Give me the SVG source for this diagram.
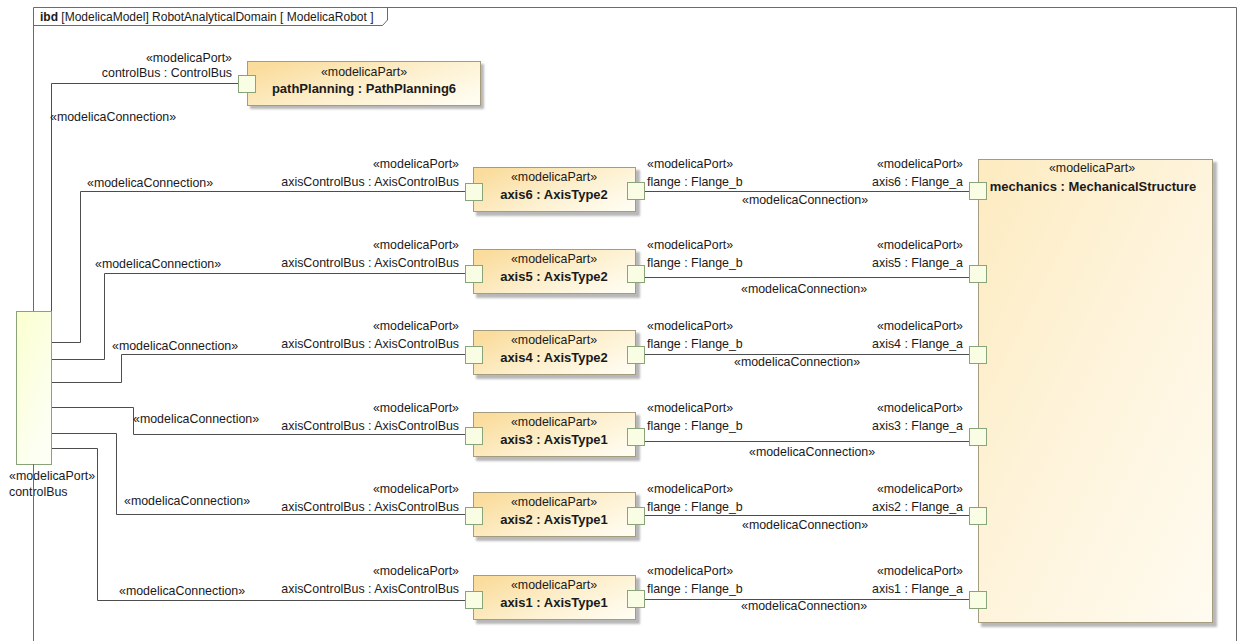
<svg xmlns="http://www.w3.org/2000/svg" width="1237" height="641" viewBox="0 0 1237 641">
<defs>
<linearGradient id="gAxis" x1="0" y1="0.2" x2="1" y2="0.8">
<stop offset="0" stop-color="#fadc9c"/>
<stop offset="0.55" stop-color="#fdf0cf"/>
<stop offset="1" stop-color="#fffcf0"/>
</linearGradient>
<linearGradient id="gMech" x1="0" y1="0" x2="1" y2="1">
<stop offset="0" stop-color="#fdebc0"/>
<stop offset="0.5" stop-color="#fef4dc"/>
<stop offset="1" stop-color="#fffbf0"/>
</linearGradient>
<linearGradient id="gCB" x1="0" y1="0" x2="0.6" y2="1">
<stop offset="0" stop-color="#fbffcf"/>
<stop offset="1" stop-color="#fdfff5"/>
</linearGradient>
<filter id="sh" x="-5%" y="-5%" width="115%" height="130%">
<feGaussianBlur stdDeviation="1"/>
</filter>
</defs>
<style>
text{font-family:"Liberation Sans",Arial,sans-serif;font-size:12.4px;fill:#1a1a1a}
.b{font-weight:bold;font-size:13px}
.h{font-size:12px}
.m{text-anchor:middle}
.e{text-anchor:end}
.box{stroke:#a59c80;stroke-width:1}
.shadow{fill:#b8b8b8;filter:url(#sh)}
.port{fill:#f8fde4;stroke:#8aa47a;stroke-width:1}
.frame{fill:none;stroke:#6b6b6b;stroke-width:1}
.conn{fill:none;stroke:#4d4d4d;stroke-width:1}
</style>
<rect width="1237" height="641" fill="#ffffff"/>

<g id="frame">
<path class="frame" d="M33.5,641 V7.5 H1236.5 V641"/>
<path class="frame" d="M33.5,25.5 H382.5 L387.5,20 V7.5"/>
<text class="h" x="40" y="21"><tspan font-weight="bold">ibd</tspan> [ModelicaModel] RobotAnalyticalDomain [ ModelicaRobot ]</text>
</g>

<g id="connectors">
<polyline class="conn" points="238,83.5 51.5,83.5 51.5,311"/>
<polyline class="conn" points="465,191.5 80.5,191.5 80.5,342.5 52,342.5"/>
<polyline class="conn" points="465,273.5 104.5,273.5 104.5,359.5 52,359.5"/>
<polyline class="conn" points="465,354.5 121.5,354.5 121.5,382.5 52,382.5"/>
<polyline class="conn" points="465,434.5 133.5,434.5 133.5,407.5 52,407.5"/>
<polyline class="conn" points="465,514.5 116.5,514.5 116.5,433.5 52,433.5"/>
<polyline class="conn" points="465,600.5 97.5,600.5 97.5,448.5 52,448.5"/>
<line class="conn" x1="644" y1="191.5" x2="969" y2="191.5"/>
<line class="conn" x1="644" y1="277.5" x2="969" y2="277.5"/>
<line class="conn" x1="644" y1="354.5" x2="969" y2="354.5"/>
<line class="conn" x1="644" y1="441.5" x2="969" y2="441.5"/>
<line class="conn" x1="644" y1="515.5" x2="969" y2="515.5"/>
<line class="conn" x1="644" y1="599.5" x2="969" y2="599.5"/>
<text x="50" y="121">«modelicaConnection»</text>
<text x="87" y="187">«modelicaConnection»</text>
<text x="95" y="268">«modelicaConnection»</text>
<text x="112" y="350">«modelicaConnection»</text>
<text x="133" y="423">«modelicaConnection»</text>
<text x="124" y="505">«modelicaConnection»</text>
<text x="119" y="595">«modelicaConnection»</text>
<text x="742" y="204">«modelicaConnection»</text>
<text x="741" y="293">«modelicaConnection»</text>
<text x="734" y="366">«modelicaConnection»</text>
<text x="749" y="456">«modelicaConnection»</text>
<text x="742" y="529">«modelicaConnection»</text>
<text x="741" y="610">«modelicaConnection»</text>
</g>

<g id="controlBus">
<rect x="16.5" y="311.5" width="35" height="153" fill="url(#gCB)" stroke="#8aa47a"/>
<text x="9" y="480">«modelicaPort»</text>
<text x="9" y="496">controlBus</text>
<line x1="33.5" y1="464" x2="33.5" y2="641" stroke="#6b6b6b"/>
</g>

<g id="pathPlanning">
<rect class="shadow" x="250" y="64" width="234" height="45"/>
<rect class="box" x="247.5" y="61.5" width="233" height="44" fill="url(#gAxis)"/>
<text class="m" x="364" y="76">«modelicaPart»</text>
<text class="m b" x="364" y="93">pathPlanning : PathPlanning6</text>
<rect class="port" x="238.5" y="75.5" width="17" height="17"/>
<text class="e" x="232" y="62">«modelicaPort»</text>
<text class="e" x="232" y="77">controlBus : ControlBus</text>
</g>

<g id="mechanics">
<rect class="shadow" x="981" y="162" width="236" height="465"/>
<rect class="box" x="978.5" y="159.5" width="234" height="463" fill="url(#gMech)"/>
<text class="m" x="1092" y="172">«modelicaPart»</text>
<text class="m b" x="1093" y="191">mechanics : MechanicalStructure</text>
<rect class="port" x="969.5" y="182.5" width="17" height="17"/>
<rect class="port" x="969.5" y="265.5" width="17" height="17"/>
<rect class="port" x="969.5" y="346.5" width="17" height="17"/>
<rect class="port" x="969.5" y="428.5" width="17" height="17"/>
<rect class="port" x="969.5" y="507.5" width="17" height="17"/>
<rect class="port" x="969.5" y="591.5" width="17" height="17"/>
<text class="e" x="963" y="168">«modelicaPort»</text>
<text class="e" x="963" y="186">axis6 : Flange_a</text>
<text class="e" x="963" y="249">«modelicaPort»</text>
<text class="e" x="963" y="267">axis5 : Flange_a</text>
<text class="e" x="963" y="330">«modelicaPort»</text>
<text class="e" x="963" y="348">axis4 : Flange_a</text>
<text class="e" x="963" y="412">«modelicaPort»</text>
<text class="e" x="963" y="430">axis3 : Flange_a</text>
<text class="e" x="963" y="493">«modelicaPort»</text>
<text class="e" x="963" y="511">axis2 : Flange_a</text>
<text class="e" x="963" y="575">«modelicaPort»</text>
<text class="e" x="963" y="593">axis1 : Flange_a</text>
</g>

<g id="axis6">
<rect class="shadow" x="476" y="170" width="164" height="46"/>
<rect class="box" x="473.5" y="167.5" width="162" height="44" fill="url(#gAxis)"/>
<text class="m" x="554" y="181">«modelicaPart»</text>
<text class="m b" x="554" y="199">axis6 : AxisType2</text>
<rect class="port" x="465.5" y="183.5" width="17" height="17"/>
<rect class="port" x="627.5" y="182.5" width="17" height="17"/>
<text class="e" x="459" y="168">«modelicaPort»</text>
<text class="e" x="459" y="186">axisControlBus : AxisControlBus</text>
<text x="647" y="168">«modelicaPort»</text>
<text x="647" y="186">flange : Flange_b</text>
</g>

<g id="axis5">
<rect class="shadow" x="476" y="252" width="164" height="46"/>
<rect class="box" x="473.5" y="249.5" width="162" height="44" fill="url(#gAxis)"/>
<text class="m" x="554" y="263">«modelicaPart»</text>
<text class="m b" x="554" y="281">axis5 : AxisType2</text>
<rect class="port" x="465.5" y="265.5" width="17" height="17"/>
<rect class="port" x="627.5" y="265.5" width="17" height="17"/>
<text class="e" x="459" y="249">«modelicaPort»</text>
<text class="e" x="459" y="267">axisControlBus : AxisControlBus</text>
<text x="647" y="249">«modelicaPort»</text>
<text x="647" y="267">flange : Flange_b</text>
</g>

<g id="axis4">
<rect class="shadow" x="476" y="333" width="164" height="46"/>
<rect class="box" x="473.5" y="330.5" width="162" height="44" fill="url(#gAxis)"/>
<text class="m" x="554" y="344">«modelicaPart»</text>
<text class="m b" x="554" y="362">axis4 : AxisType2</text>
<rect class="port" x="465.5" y="346.5" width="17" height="17"/>
<rect class="port" x="627.5" y="346.5" width="17" height="17"/>
<text class="e" x="459" y="330">«modelicaPort»</text>
<text class="e" x="459" y="348">axisControlBus : AxisControlBus</text>
<text x="647" y="330">«modelicaPort»</text>
<text x="647" y="348">flange : Flange_b</text>
</g>

<g id="axis3">
<rect class="shadow" x="476" y="415" width="164" height="46"/>
<rect class="box" x="473.5" y="412.5" width="162" height="44" fill="url(#gAxis)"/>
<text class="m" x="554" y="426">«modelicaPart»</text>
<text class="m b" x="554" y="444">axis3 : AxisType1</text>
<rect class="port" x="465.5" y="427.5" width="17" height="17"/>
<rect class="port" x="627.5" y="428.5" width="17" height="17"/>
<text class="e" x="459" y="412">«modelicaPort»</text>
<text class="e" x="459" y="430">axisControlBus : AxisControlBus</text>
<text x="647" y="412">«modelicaPort»</text>
<text x="647" y="430">flange : Flange_b</text>
</g>

<g id="axis2">
<rect class="shadow" x="476" y="495" width="164" height="46"/>
<rect class="box" x="473.5" y="492.5" width="162" height="44" fill="url(#gAxis)"/>
<text class="m" x="554" y="506">«modelicaPart»</text>
<text class="m b" x="554" y="524">axis2 : AxisType1</text>
<rect class="port" x="465.5" y="507.5" width="17" height="17"/>
<rect class="port" x="627.5" y="507.5" width="17" height="17"/>
<text class="e" x="459" y="493">«modelicaPort»</text>
<text class="e" x="459" y="511">axisControlBus : AxisControlBus</text>
<text x="647" y="493">«modelicaPort»</text>
<text x="647" y="511">flange : Flange_b</text>
</g>

<g id="axis1">
<rect class="shadow" x="476" y="578" width="164" height="46"/>
<rect class="box" x="473.5" y="575.5" width="162" height="44" fill="url(#gAxis)"/>
<text class="m" x="554" y="589">«modelicaPart»</text>
<text class="m b" x="554" y="607">axis1 : AxisType1</text>
<rect class="port" x="465.5" y="591.5" width="17" height="17"/>
<rect class="port" x="627.5" y="590.5" width="17" height="17"/>
<text class="e" x="459" y="575">«modelicaPort»</text>
<text class="e" x="459" y="593">axisControlBus : AxisControlBus</text>
<text x="647" y="575">«modelicaPort»</text>
<text x="647" y="593">flange : Flange_b</text>
</g>
</svg>
